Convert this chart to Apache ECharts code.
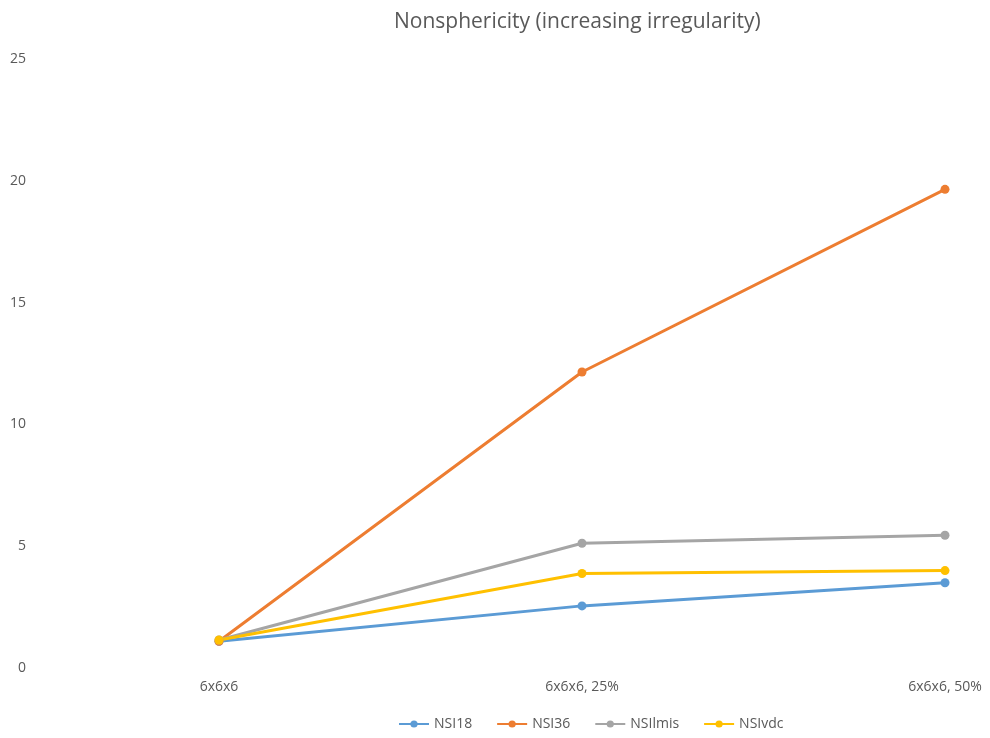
<!DOCTYPE html>
<html>
<head>
<meta charset="utf-8">
<script src="https://cdn.jsdelivr.net/npm/echarts@6/dist/echarts.min.js"></script>
<style>html,body{margin:0;padding:0;background:#fff;}#c{width:990px;height:738px;}</style>
</head>
<body>
<div id="c"></div>
<script>
var categories = ['6x6x6', '6x6x6, 25%', '6x6x6, 50%'];
var yTicks = [0, 5, 10, 15, 20, 25];
var nsi18 = [1.1, 2.55, 3.5];
var nsi36 = [1.1, 12.15, 19.65];
var nsiLmis = [1.15, 5.12, 5.45];
var nsiVdc = [1.15, 3.88, 4.0];
var seriesNames = ['NSI18', 'NSI36', 'NSIlmis', 'NSIvdc'];
var seriesData = [nsi18, nsi36, nsiLmis, nsiVdc];
var colors = ['#5B9BD5', '#ED7D31', '#A5A5A5', '#FFC000'];

var chart = echarts.init(document.getElementById('c'));
chart.setOption({
  animation: false,
  title: {
    text: 'Nonsphericity (increasing irregularity)',
    left: 389, top: 7,
    textStyle: { fontFamily: 'Open Sans', fontSize: 21, fontWeight: 'normal', color: '#595959' }
  },
  legend: {
    bottom: 2, left: 393,
    itemWidth: 30, itemHeight: 9, itemGap: 24,
    textStyle: { fontFamily: 'Open Sans', fontSize: 14, color: '#595959' },
    data: seriesNames
  },
  grid: { left: 219, right: 45, top: 59, bottom: 70 },
  xAxis: {
    type: 'category', data: categories, boundaryGap: false,
    axisLine: { show: false }, axisTick: { show: false },
    axisLabel: { fontFamily: 'Open Sans', fontSize: 14, color: '#595959', margin: 12 }
  },
  yAxis: {
    type: 'value', min: yTicks[0], max: yTicks[yTicks.length - 1], interval: 5,
    axisLine: { show: false }, axisTick: { show: false }, splitLine: { show: false },
    axisLabel: { fontFamily: 'Open Sans', fontSize: 14, color: '#595959', margin: 193 }
  },
  series: seriesNames.map(function (n, i) {
    return {
      name: n, type: 'line', data: seriesData[i], color: colors[i],
      symbol: 'circle', symbolSize: 9,
      lineStyle: { width: 3 }, itemStyle: { color: colors[i] }
    };
  })
});
</script>
</body>
</html>
